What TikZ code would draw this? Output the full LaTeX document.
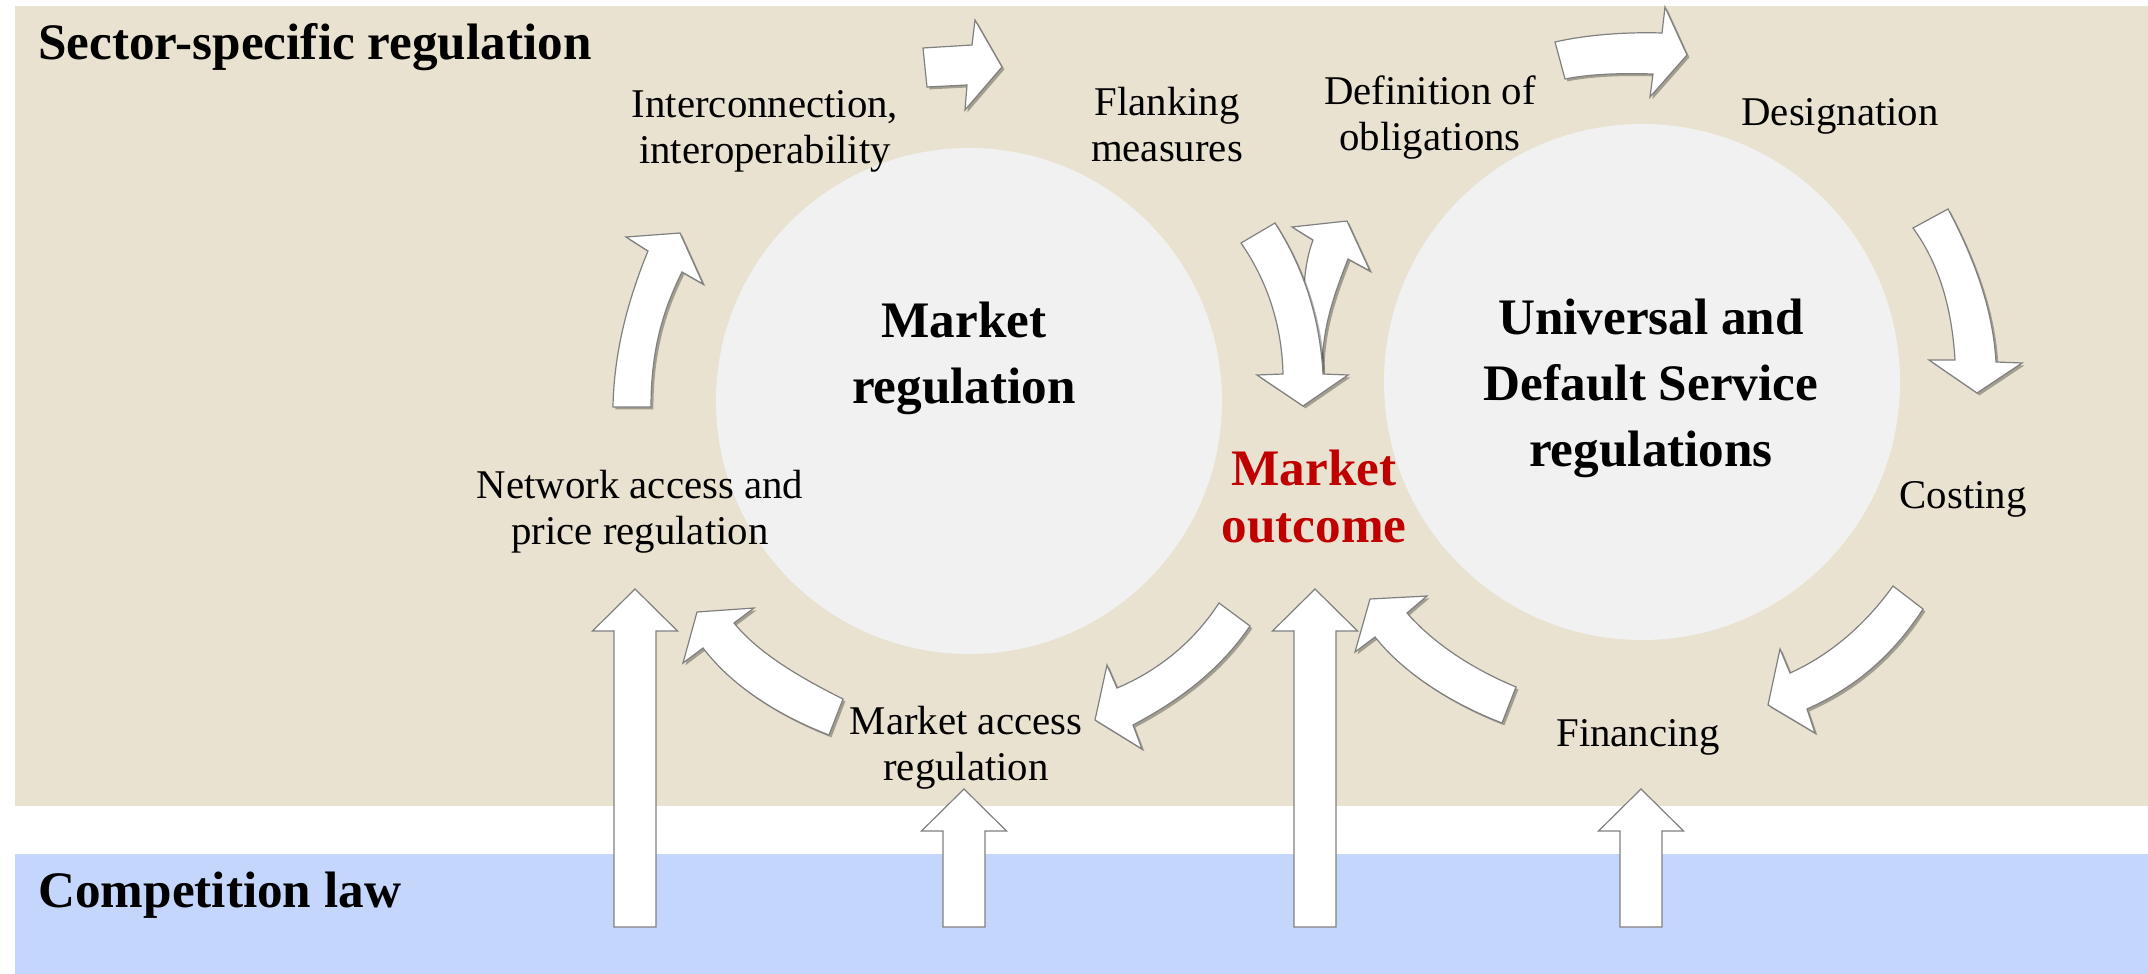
\documentclass[tikz,border=0pt]{standalone}
\usepackage{fontspec}
\setmainfont{Liberation Serif}
\usetikzlibrary{shadows}
\definecolor{sand}{RGB}{233,226,208}
\definecolor{skyblue}{RGB}{196,214,252}
\definecolor{disc}{RGB}{241,241,241}
\definecolor{outred}{RGB}{192,0,0}
\tikzstyle{field} = [circle, fill=disc, inner sep=0pt]
\tikzstyle{tag} = [align=center, inner sep=0pt, font=\fontsize{20.4}{23}\selectfont]
\tikzstyle{heading} = [align=center, inner sep=0pt, font=\fontsize{25.6}{33}\selectfont\bfseries]
\tikzstyle{blockarrow} = [fill=white, draw=black!50, line width=0.6pt, line join=miter]
\tikzstyle{shadowed} = [drop shadow={shadow xshift=1.2pt, shadow yshift=-1.2pt, opacity=0.3, fill=black}]

\begin{document}
\begin{tikzpicture}[x=0.5pt, y=-0.5pt]
\useasboundingbox (0,0) rectangle (2148,974);
\fill[white] (0,0) rectangle (2148,974);

% the two layers
\fill[sand] (15,6) rectangle (2148,806);
\fill[skyblue] (15,854) rectangle (2148,974);

% the two fields
\node (marketreg) [field, minimum size=253pt] at (969,401) {};
\node (usoreg) [field, minimum size=258pt] at (1642,382) {};

% texts (base = last line)
\node (sectortitle) [heading, anchor=base west] at (38,60) {Sector-specific regulation};
\node (comptitle) [heading, anchor=base west] at (38,907) {Competition law};
\node (marketregtext) [heading, anchor=base] at (964,403) {Market\\regulation};
\node (usotext) [heading, anchor=base] at (1651,466) {Universal and\\Default Service\\regulations};
\node (outcome) [heading, text=outred, anchor=base, font=\fontsize{25.6}{28.5}\selectfont\bfseries] at (1314,542) {Market\\outcome};
\node (interconn) [tag, anchor=base] at (765,163) {Interconnection,\\interoperability};
\node (flanking) [tag, anchor=base] at (1167,162) {Flanking\\measures};
\node (obligations) [tag, anchor=base] at (1430,150) {Definition of\\obligations};
\node (designation) [tag, anchor=base] at (1840,126) {Designation};
\node (costing) [tag, anchor=base] at (1963,508) {Costing};
\node (financing) [tag, anchor=base] at (1638,746) {Financing};
\node (marketaccess) [tag, anchor=base] at (966,780) {Market access\\regulation};
\node (netaccess) [tag, anchor=base] at (640,544) {Network access and\\price regulation};

% straight arrows from competition law
\foreach \x/\t in {635/589, 964/789, 1315/589, 1641/789}
  \draw[blockarrow] ({\x-21},927) -- ({\x-21},{\t+42}) -- ({\x-42.5},{\t+42}) -- (\x,\t)
    -- ({\x+42.5},{\t+42}) -- ({\x+21},{\t+42}) -- ({\x+21},927) -- cycle;

% market regulation cycle
\draw[blockarrow, shadowed] (613,407) .. controls (614,345) and (632,290) .. (648,251) -- (626,237) -- (680,233)
  -- (703,284) -- (682,272) .. controls (663,310) and (651,350) .. (651,407) -- cycle;
\draw[blockarrow, shadowed] (923,48) -- (972,45) -- (975,20) -- (1002,67) -- (965,110) -- (967,85) -- (927,87) -- cycle;
\draw[blockarrow, shadowed] (1312,373) .. controls (1302,320) and (1300,275) .. (1313,240) -- (1292,227) -- (1347,221)
  -- (1370,271) -- (1348,259) .. controls (1332,300) and (1322,330) .. (1322,373) -- cycle;
\draw[blockarrow, shadowed] (1241,243) -- (1275,223) .. controls (1305,270) and (1320,320) .. (1323,374) -- (1348,375)
  -- (1303,406) -- (1257,375) -- (1283,374) .. controls (1282,330) and (1270,285) .. (1241,243) -- cycle;
\draw[blockarrow, shadowed] (1219,603) -- (1250,626) .. controls (1220,670) and (1180,700) .. (1133,725) -- (1142,749)
  -- (1095,720) -- (1107,665) -- (1117,688) .. controls (1160,670) and (1195,640) .. (1219,603) -- cycle;
\draw[blockarrow, shadowed] (829,735) -- (843,699) .. controls (805,680) and (760,655) .. (734,623) -- (754,608)
  -- (697,612) -- (683,663) -- (703,648) .. controls (735,690) and (785,718) .. (829,735) -- cycle;

% universal service cycle
\draw[blockarrow, shadowed] (1555,42) .. controls (1590,34) and (1630,32) .. (1662,33) -- (1665,7) -- (1687,55)
  -- (1650,97) -- (1653,74) .. controls (1620,73) and (1590,74) .. (1565,79) -- cycle;
\draw[blockarrow, shadowed] (1913,228) -- (1948,209) .. controls (1975,260) and (1993,310) .. (1996,362) -- (2022,363)
  -- (1977,393) -- (1929,360) -- (1955,360) .. controls (1952,310) and (1940,265) .. (1913,228) -- cycle;
\draw[blockarrow, shadowed] (1893,586) -- (1923,609) .. controls (1890,660) and (1850,690) .. (1807,709) -- (1815,733)
  -- (1768,705) -- (1780,649) -- (1790,673) .. controls (1830,655) and (1865,625) .. (1893,586) -- cycle;
\draw[blockarrow, shadowed] (1502,723) -- (1516,687) .. controls (1475,670) and (1435,645) .. (1407,613) -- (1427,596)
  -- (1370,599) -- (1355,652) -- (1375,637) .. controls (1405,675) and (1455,705) .. (1502,723) -- cycle;

\end{tikzpicture}
\end{document}
